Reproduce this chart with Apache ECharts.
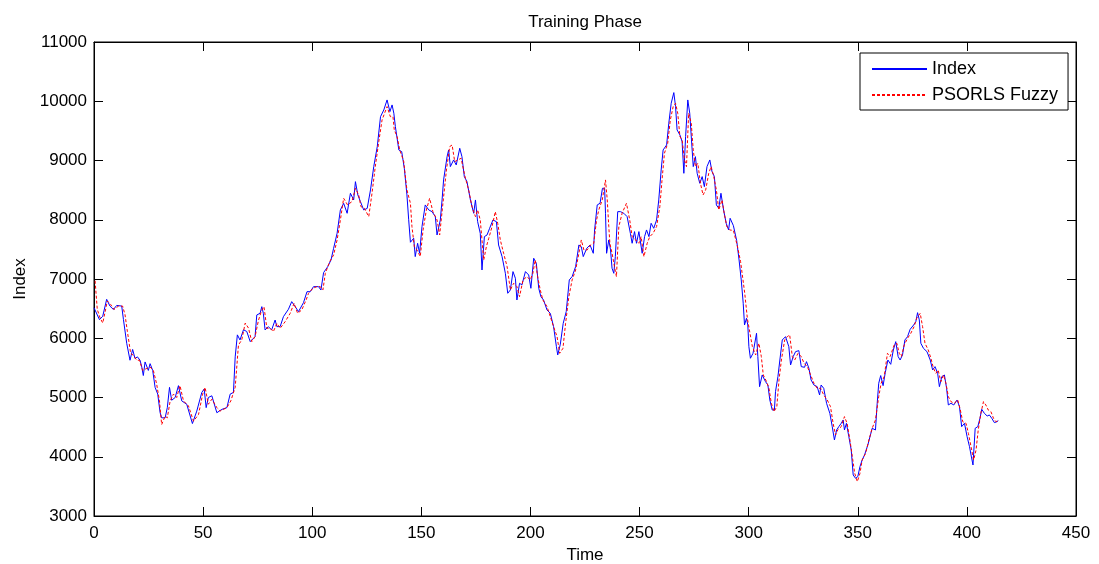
<!DOCTYPE html>
<html>
<head>
<meta charset="utf-8">
<script src="https://cdn.jsdelivr.net/npm/echarts@6/dist/echarts.min.js"></script>
<style>
html,body{margin:0;padding:0;background:#fff;}
#chart{width:1099px;height:564px;}
</style>
</head>
<body>
<div id="chart"></div>
<script>
const chartTitle = 'Training Phase';
const seriesNames = ['Index', 'PSORLS Fuzzy'];
const xTickValues = [0, 50, 100, 150, 200, 250, 300, 350, 400, 450];
const yTickValues = [3000, 4000, 5000, 6000, 7000, 8000, 9000, 10000, 11000];

const indexTime = [0,2.5,4,5.8,7.3,8.9,10.4,12.7,13.5,15,16.5,17.7,18.8,19.9,21.1,21.9,22.6,23.4,24.9,25.7,26.9,28,29.2,30.3,31,32.6,33.6,34.6,35.6,37.2,38.7,40.2,42.5,45.1,47.1,49.4,50.5,51.4,52.4,54,56.3,58.6,60.9,62.4,63.9,64.7,65.7,66.9,68.5,70,71.6,
73.8,74.6,76.1,76.9,77.6,78.4,79.9,81.4,83,83.8,85.3,86.8,89.1,90.6,92.2,93.7,96,97.6,99.1,100.6,102.9,104,105.2,107.1,108.6,109.8,111.4,112.9,114.4,116,117.5,119,119.8,120.9,122.1,123.6,125.2,126.7,128.2,129.8,131.3,132.8,134.3,135.6,136.6,137.4,138.1,139.7,
141,142.2,143.4,144.2,145,146.5,147.2,148.3,149.2,150.3,151.8,153.4,154.9,156.4,157.2,158.7,159.5,160.2,161.8,162.5,163.3,164.8,166,167.6,168.6,169.7,170.9,172.5,174,174.8,175.8,177,177.8,178.9,180.1,181.3,182.8,184.4,185.4,187,188.5,189.6,190.8,192,193.1,193.8,195,196.1,197.7,199.2,200.2,201.5,202.7,203.8,204.8,206,207.6,209.1,210.6,211.9,212.5,
213.7,215,216.4,217.8,219.1,220.7,222.2,223.3,224.2,225.8,227.3,228.8,229.4,230.6,231.9,233,234,234.4,234.9,235.9,236.7,237.4,238.2,238.9,240,241.2,242.8,244.3,245.8,246.6,247.7,248.6,249.7,251.2,252.3,253.2,254.3,255.3,256.5,257.8,258.8,259.9,260.8,262.4,263.4,264.5,265.7,266.5,267.2,268.5,269.5,270.3,271.1,272.1,273,273.8,274.6,275.6,276.4,277.6,278.7,279.7,280.9,282.2,283.2,284.3,285.2,286.3,287.3,288.5,289.7,290.8,291.5,
293,294.5,295.6,296.6,297.5,298.1,299,299.6,300.1,300.8,302,303.6,304.2,305,306.2,307.7,308.8,309.7,310.8,311.8,312.3,313.4,314.3,315.4,316.1,316.9,317.7,318.4,319.2,320.4,321.5,323,324.1,325.6,326.5,327.6,328.6,329.9,331.4,332.5,333.2,334.4,335.7,337.2,338.3,339.3,340.3,341.3,342.4,343.3,343.9,344.8,345.9,347,347.9,349,350,351,352,353.1,354.6,356.6,358.1,358.9,359.6,
360.5,361.6,362.6,363.8,365.1,366.3,367.4,368.5,369.4,370.5,371.6,372.8,374,375.6,376.6,377.4,378.2,378.9,380.1,381.7,383.2,384.3,385.4,386.6,387.4,388.5,389.7,390.7,391.5,392.7,394,395.5,396.6,397.6,398.9,400.1,401.2,401.9,402.8,403.8,405,406,406.8,408,409.3,410.3,411.4,412.6,413.8,414.4];

const indexValue = [6514,6314,6371,6657,6543,6486,6554,6543,6314,5914,5629,5811,5657,5686,5629,5514,5371,5600,5457,5571,5457,5171,5057,4743,4657,4657,4829,5171,4954,5000,5200,4943,4886,4560,4771,5086,5143,4829,5000,5029,4743,4800,4829,5057,5086,5686,6057,5971,6143,6114,5943,
6027,6393,6421,6533,6421,6140,6196,6140,6308,6196,6196,6364,6489,6618,6533,6449,6601,6786,6786,6871,6871,6814,7107,7208,7321,7518,7772,8165,8278,8109,8447,8335,8643,8418,8306,8165,8192,8503,8897,9234,9740,9853,10022,9825,9938,9797,9572,9178,
9150,8870,8420,8000,7620,7688,7378,7603,7434,7884,8250,8165,8137,8053,7743,7996,8334,8672,9065,9178,8897,9009,8925,9206,9065,8728,8644,8334,8109,8334,7968,7771,7152,7715,7743,7856,7996,7968,7574,7378,7097,6759,6815,7125,7012,6646,6928,6900,7125,7068,6843,7350,7265,6843,6702,6646,6477,6421,6196,5858,5718,
5900,6250,6450,6984,7040,7208,7574,7546,7378,7518,7574,7434,7828,8250,8278,8531,8531,8109,7434,7659,7490,7181,7096,7378,8137,8137,8109,8053,7771,7603,7800,7603,7800,7434,7715,7828,7715,7940,7856,7996,8334,8840,9178,9262,9629,9966,10146,9910,9516,9431,9318,8784,9403,10022,9797,9347,8897,9065,8784,8615,8728,8559,8897,9009,8812,8728,8250,8194,8447,8165,7940,7828,8025,
7900,7650,7321,6984,6590,6224,6337,6224,5858,5662,5746,6084,5690,5183,5380,5268,5211,4958,4789,4789,5099,5352,5633,5971,5943,6027,5999,5858,5549,5690,5774,5791,5521,5510,5605,5493,5296,5211,5183,5043,5211,5155,4902,4733,4508,4283,4452,4508,4564,4621,4452,4564,4339,4114,3692,3636,3664,3833,3945,4030,4198,4480,4452,4902,5240,
5370,5200,5420,5633,5560,5802,5943,5690,5633,5718,5971,6027,6151,6224,6281,6432,6309,5915,5830,5774,5633,5465,5521,5408,5183,5352,5380,5155,4874,4902,4874,4958,4846,4508,4564,4339,4170,4030,3861,4480,4508,4649,4801,4733,4688,4705,4649,4576,4592,4610];

const fuzzyTime = [0.5,1.5,2.8,4,5,6.1,7.6,9.2,11.2,13.1,14.2,15.3,16.8,18,19.6,20.8,22.3,23.9,25.7,27.2,28.7,30,31,32.6,33.6,34.9,36.4,37.9,39.4,41,43.3,45.6,47.9,49.8,50.9,52.4,54,56.3,57.8,60.9,62.7,64.7,66.2,67.7,69.3,70.8,
72.3,73.8,75.4,76.9,77.9,79.2,80.7,82.2,83.8,85.3,87.6,89.9,91.7,93.3,95.2,97.2,98.3,100.3,102.1,103.7,104.9,106,108,109.8,111.4,112.9,114.4,116.2,118.2,119.8,121.3,122.3,123.9,125.9,127.4,128.9,130.5,132,134.3,135.8,137,137.6,138.9,140.1,141.9,
143.4,145,145.7,146.8,148,149.5,150.8,152.3,153.8,155.3,157.2,158.4,159.9,161.5,163,164.1,165.3,166.7,168.2,170.2,171.7,173.2,174.8,175.8,177,178.6,179.8,180.9,182.4,183.9,185,186.2,187.7,189.3,190.8,192.3,193.8,195,196.6,198.4,199.9,201.1,202.2,203.3,204.5,205.7,207.6,209.1,210.6,212.2,213.4,214.9,
216.1,217.6,219.1,220.7,222.2,223.3,224.5,226,227.5,229,230.3,231.3,232.9,234.4,235.2,235.9,236.4,237.4,238.5,239.4,240.5,242,244,245.5,246.6,248.2,249.7,250.7,252,253.5,254.7,256.2,257.8,259.3,260.3,261.4,262.9,264.1,265.4,266.5,267.5,268.5,269.5,270.6,271.5,272.5,273.7,274.6,275.6,276.7,277.9,279.1,280.3,281.7,282.8,284,285.2,286.3,287.8,288.8,290,291.3,
293,294.8,296.3,297,298.2,299.4,300.6,301.7,303.2,304.7,305.8,306.7,308.2,309.3,310.4,311.6,312.9,313.9,315,316.5,317.7,318.8,320,321.1,322.6,324.1,325.4,326.9,328.4,329.9,331.4,333,334.4,336,337.5,338.7,339.8,340.8,342.4,343.9,345.1,346.4,347.5,348.6,349.8,351,352,353.6,355.1,356.6,358.1,359.6,360.7,
362.1,363.6,364.8,366.7,367.9,369,370,371.3,372.8,374.3,375.8,377,378.6,379.7,380.8,382.3,383.5,384.7,385.8,386.8,388.1,389.3,390.4,391.5,392.7,394.2,395.8,397,398.1,399.6,400.7,401.9,403.1,404.2,405.2,406.4,407.6,408.7,409.8,411,412.2,413.3,414.4];

const fuzzyValue = [6971,6486,6343,6257,6429,6629,6571,6486,6543,6543,6400,6114,5743,5714,5629,5629,5457,5486,5514,5457,5229,4943,4543,4686,4657,4943,5057,5000,5200,4943,4857,4600,4714,5057,5171,4886,4971,4829,4771,4829,4943,5171,5886,5971,6257,6171,
5943,6027,6308,6477,6533,6168,6168,6112,6252,6168,6280,6421,6590,6421,6477,6646,6758,6843,6871,6871,6814,7096,7293,7405,7659,7996,8362,8250,8306,8531,8418,8222,8194,8053,8447,8897,9318,9684,9910,9740,9740,9516,9403,9178,8990,
8503,8278,7884,7546,7490,7378,7828,8165,8362,8137,7996,7743,8278,8840,9234,9262,8981,9009,9037,8700,8503,8222,8053,8165,7996,7321,7546,7687,7884,8137,7940,7659,7434,7209,6815,6928,6871,6702,6984,7040,6984,7096,7321,7040,6815,6646,6534,6365,6196,6027,5746,5830,
6252,6702,6984,7152,7434,7659,7490,7490,7574,7603,7996,8165,8334,8672,8334,7884,7603,7434,7209,7040,7884,8109,8278,7996,7715,7659,7603,7715,7378,7603,7715,7771,7884,8222,8672,9122,9290,9684,9910,9966,9797,9403,9347,9009,8897,9797,9629,9178,8897,8953,8615,8418,8503,8784,8897,8728,8503,8165,8334,8109,7884,7828,
7820,7560,7293,7096,6759,6337,6084,5858,5718,5915,5690,5380,5268,5155,4902,4761,4846,5296,5633,5971,6027,6056,5690,5633,5746,5690,5577,5521,5380,5240,5155,5155,5043,4958,4846,4564,4367,4452,4508,4677,4564,4283,4002,3720,3580,3720,3945,4058,4283,4480,4621,5015,5240,
5352,5746,5690,5887,5915,5746,5690,5887,5999,6084,6196,6337,6421,6196,5915,5802,5662,5493,5408,5465,5268,5380,5240,5015,4930,4902,4958,4789,4592,4564,4395,4170,3945,4114,4452,4733,4930,4874,4789,4761,4649,4592,4610];

const FONT = '"Liberation Sans", Arial, Helvetica, sans-serif';
const FS = 17;
const indexData = indexTime.map((t, i) => [t, indexValue[i]]);
const fuzzyData = fuzzyTime.map((t, i) => [t, fuzzyValue[i]]);

const chart = echarts.init(document.getElementById('chart'), null, {renderer: 'canvas'});

function axisBase(showLabel) {
  return {
    type: 'value',
    axisLine: {show: true, onZero: false, lineStyle: {color: '#000', width: 1}},
    axisTick: {show: true, inside: true, length: 9, lineStyle: {color: '#000'}},
    axisLabel: {show: showLabel, color: '#000', fontSize: FS, fontFamily: FONT},
    splitLine: {show: false}
  };
}

const option = {
  animation: false,
  backgroundColor: '#fff',
  title: {
    text: chartTitle,
    left: 580,
    top: 9,
    textAlign: 'center',
    textStyle: {color: '#000', fontSize: FS, fontWeight: 'normal', fontFamily: FONT}
  },
  legend: {
    orient: 'vertical',
    left: 860,
    top: 53,
    padding: [7, 10, 6, 11],
    itemGap: 8,
    itemWidth: 55,
    itemHeight: 14,
    backgroundColor: '#fff',
    borderColor: '#000',
    borderWidth: 1,
    borderRadius: 0,
    itemStyle: {opacity: 0},
    textStyle: {color: '#000', fontSize: 18, fontFamily: FONT},
    data: seriesNames
  },
  grid: {left: 94, right: 23, top: 42, bottom: 48, show: true, borderColor: '#000', borderWidth: 1, backgroundColor: '#fff', containLabel: false, outerBoundsMode: 'none'},
  xAxis: [
    Object.assign(axisBase(true), {
      min: xTickValues[0], max: xTickValues[xTickValues.length - 1], interval: 50, position: 'bottom',
      name: 'Time', nameLocation: 'middle', nameGap: 31,
      nameTextStyle: {color: '#000', fontSize: FS, fontFamily: FONT},
      axisLabel: {show: true, color: '#000', fontSize: FS, fontFamily: FONT, margin: 9}
    }),
    Object.assign(axisBase(false), {
      min: xTickValues[0], max: xTickValues[xTickValues.length - 1], interval: 50, position: 'top'
    })
  ],
  yAxis: [
    Object.assign(axisBase(true), {
      min: yTickValues[0], max: yTickValues[yTickValues.length - 1], interval: 1000, position: 'left',
      name: 'Index', nameLocation: 'middle', nameGap: 64, nameRotate: 90,
      nameTextStyle: {color: '#000', fontSize: FS, fontFamily: FONT},
      axisLabel: {show: true, color: '#000', fontSize: FS, fontFamily: FONT, margin: 7,
        formatter: function (v) { return String(v); }}
    }),
    Object.assign(axisBase(false), {
      min: yTickValues[0], max: yTickValues[yTickValues.length - 1], interval: 1000, position: 'right'
    })
  ],
  series: [
    {
      name: seriesNames[0], type: 'line', data: indexData, xAxisIndex: 0, yAxisIndex: 0,
      showSymbol: false, symbol: 'none',
      lineStyle: {color: '#0000ff', width: 1},
      itemStyle: {color: '#0000ff'}
    },
    {
      name: seriesNames[1], type: 'line', data: fuzzyData, xAxisIndex: 0, yAxisIndex: 0,
      showSymbol: false, symbol: 'none',
      lineStyle: {color: '#ff0000', width: 1, type: [3, 2]},
      itemStyle: {color: '#ff0000'}
    }
  ]
};
chart.setOption(option);
</script>
</body>
</html>
